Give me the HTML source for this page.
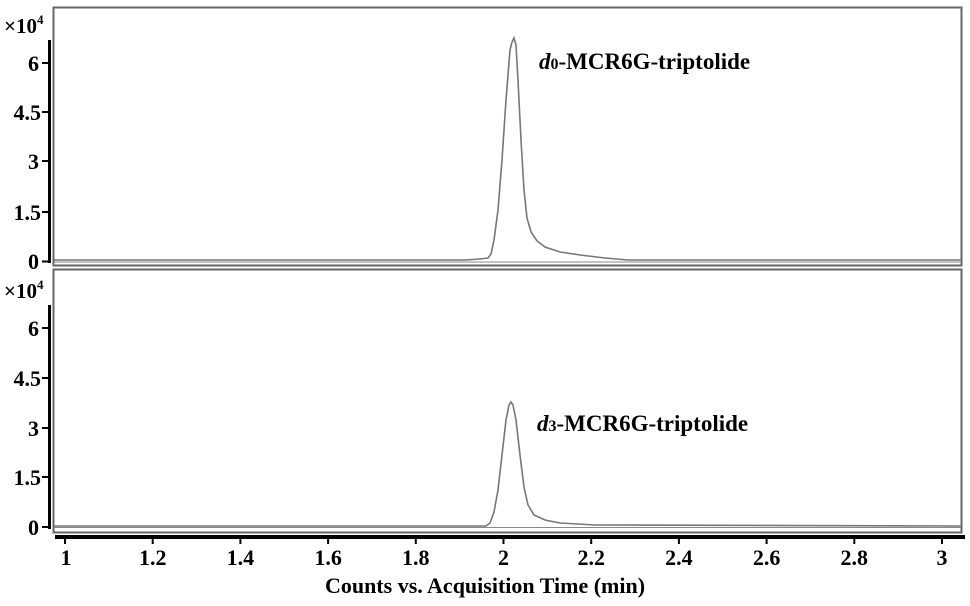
<!DOCTYPE html>
<html><head><meta charset="utf-8"><style>
html,body{margin:0;padding:0;background:#fff;}
svg{display:block;}
text{font-family:"Liberation Serif",serif;font-weight:bold;fill:#000;}
</style></head><body>
<svg width="970" height="606" viewBox="0 0 970 606" xmlns="http://www.w3.org/2000/svg">
<rect x="53.5" y="7.5" width="908" height="258" fill="none" stroke="#666" stroke-width="2"/>
<rect x="53.5" y="269.5" width="908" height="263" fill="none" stroke="#666" stroke-width="2"/>
<line x1="54" y1="262" x2="961" y2="262" stroke="#888" stroke-width="1"/>
<line x1="54" y1="527.5" x2="961" y2="527.5" stroke="#888" stroke-width="1"/>
<line x1="49.5" y1="40" x2="49.5" y2="263" stroke="#000" stroke-width="3"/>
<line x1="49.5" y1="305" x2="49.5" y2="529" stroke="#000" stroke-width="3"/>
<g stroke="#000" stroke-width="2">
<line x1="42" y1="63" x2="50" y2="63"/><line x1="42" y1="112" x2="50" y2="112"/><line x1="42" y1="161" x2="50" y2="161"/><line x1="42" y1="212" x2="50" y2="212"/><line x1="42" y1="261.5" x2="50" y2="261.5"/>
<line x1="42" y1="328" x2="50" y2="328"/><line x1="42" y1="378" x2="50" y2="378"/><line x1="42" y1="428" x2="50" y2="428"/><line x1="42" y1="477" x2="50" y2="477"/><line x1="42" y1="527" x2="50" y2="527"/>
</g>
<g font-size="22" text-anchor="end">
<text x="39" y="71">6</text><text x="41" y="120">4.5</text><text x="39" y="169">3</text><text x="41" y="220">1.5</text><text x="39" y="269">0</text>
<text x="39" y="336">6</text><text x="41" y="386">4.5</text><text x="39" y="436">3</text><text x="41" y="485">1.5</text><text x="39" y="535">0</text>
</g>
<text x="4" y="33" font-size="21" font-weight="normal">×10<tspan font-size="13" dy="-9">4</tspan></text>
<text x="4" y="298" font-size="21" font-weight="normal">×10<tspan font-size="13" dy="-9">4</tspan></text>
<line x1="55" y1="537" x2="965" y2="537" stroke="#000" stroke-width="4"/>
<g stroke="#000" stroke-width="2">
<line x1="65" y1="537" x2="65" y2="544"/><line x1="152.7" y1="537" x2="152.7" y2="544"/><line x1="240.4" y1="537" x2="240.4" y2="544"/><line x1="328.1" y1="537" x2="328.1" y2="544"/><line x1="415.8" y1="537" x2="415.8" y2="544"/><line x1="503.5" y1="537" x2="503.5" y2="544"/><line x1="591.2" y1="537" x2="591.2" y2="544"/><line x1="678.9" y1="537" x2="678.9" y2="544"/><line x1="766.6" y1="537" x2="766.6" y2="544"/><line x1="854.3" y1="537" x2="854.3" y2="544"/><line x1="942" y1="537" x2="942" y2="544"/>
</g>
<g font-size="22" text-anchor="middle">
<text x="66" y="565">1</text><text x="152.7" y="565">1.2</text><text x="240.4" y="565">1.4</text><text x="328.1" y="565">1.6</text><text x="415.8" y="565">1.8</text><text x="503.5" y="565">2</text><text x="591.2" y="565">2.2</text><text x="678.9" y="565">2.4</text><text x="766.6" y="565">2.6</text><text x="854.3" y="565">2.8</text><text x="942" y="565">3</text>
</g>
<text x="485" y="593" font-size="22" text-anchor="middle">Counts vs. Acquisition Time (min)</text>
<path d="M54 260 L465 260 L480 259 L488 258 L491 254 L494 240 L498 210 L502 160 L506 100 L510 50 L512 42 L514 38 L516 45 L518 80 L521 140 L524 190 L527 218 L531 232 L537 241 L545 247 L560 252 L580 255 L605 258 L628 260 L961 260" fill="none" stroke="#777" stroke-width="1.6"/>
<path d="M54 526 L486 526 L490 523 L494 512 L498 490 L502 455 L506 420 L509 405 L511 402 L513 405 L516 420 L520 455 L524 487 L528 505 L534 515 L545 520 L560 523 L595 525 L961 526" fill="none" stroke="#777" stroke-width="1.6"/>
<text x="539" y="69" font-size="23"><tspan font-style="italic">d</tspan><tspan font-size="16">0</tspan>-MCR6G-triptolide</text>
<text x="537" y="431" font-size="23"><tspan font-style="italic">d</tspan><tspan font-size="16">3</tspan>-MCR6G-triptolide</text>
</svg>
</body></html>
